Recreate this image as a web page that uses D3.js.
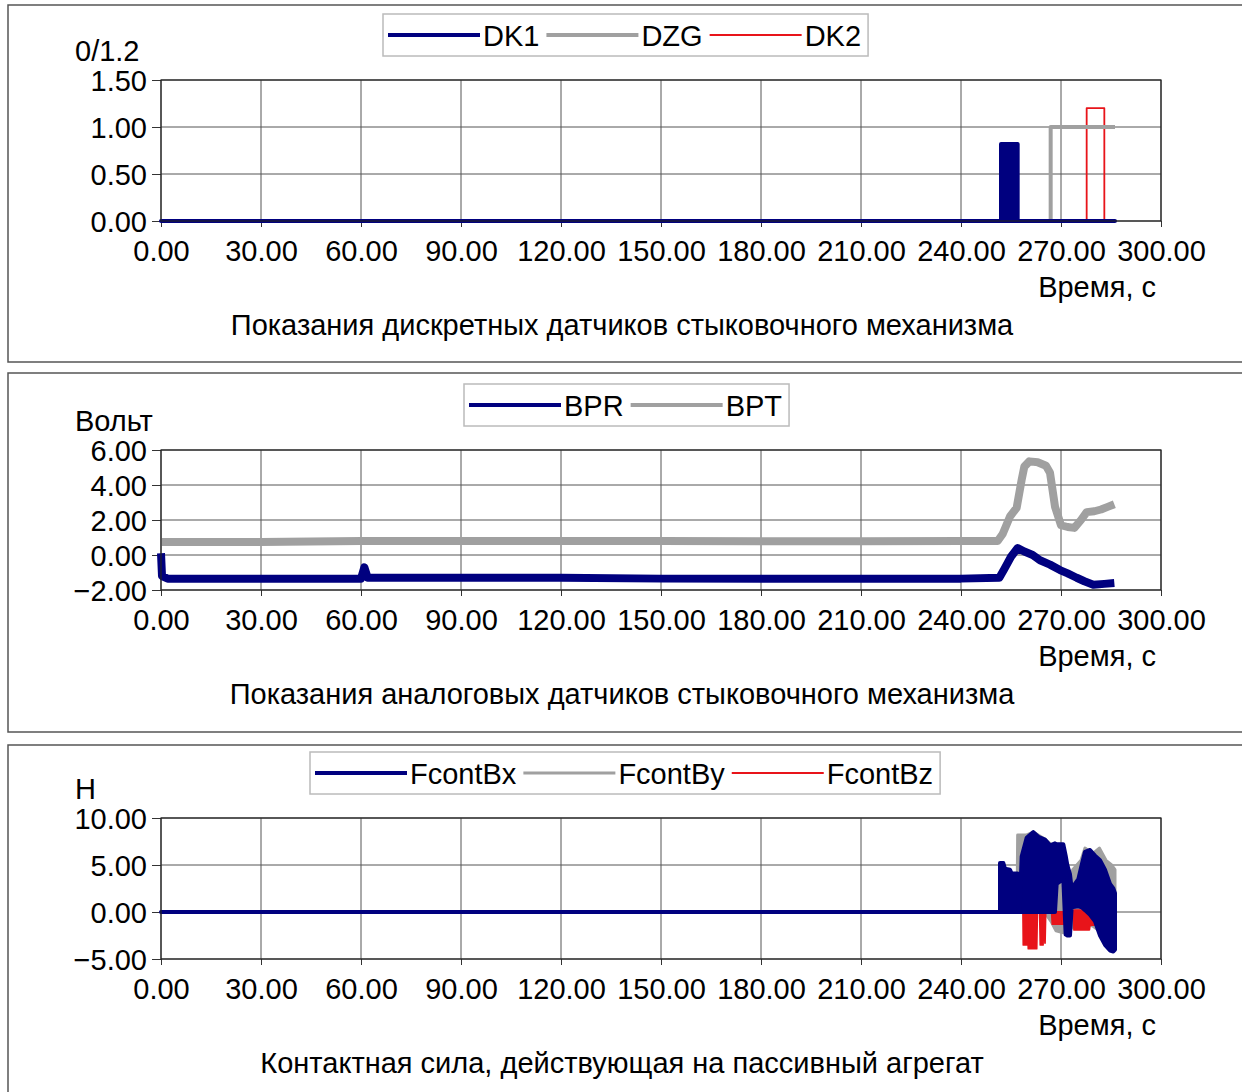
<!DOCTYPE html>
<html>
<head>
<meta charset="utf-8">
<script src="https://cdn.jsdelivr.net/npm/d3@7"></script>
<style>
body { margin: 0; background: #fff; }
text { font-family: "Liberation Sans", Arial, sans-serif; fill: #000; }
</style>
</head>
<body>
<div id="chart"></div>
<script>
// ---- data ----
var xTicks = [0, 30, 60, 90, 120, 150, 180, 210, 240, 270, 300];

// panel 1: discrete sensors (0/1.2)
var dk1T  = [0, 252, 252, 257, 257, 286.2];
var dk1Lo = [0, 0, 0, 0, 0, 0];
var dk1Hi = [0, 0, 0.82, 0.82, 0, 0];
var dzgT  = [0, 266.9, 266.9, 286.2];
var dzgV  = [0, 0, 1.0, 1.0];
var dk2T  = [0, 277.7, 277.7, 283.0, 283.0, 286.2];
var dk2V  = [0, 0, 1.2, 1.2, 0, 0];
var p1Ticks = [0, 0.5, 1.0, 1.5];

// panel 2: analog sensors, volts
var bptT = [0, 30, 60, 90, 120, 150, 180, 210, 240, 251, 252.5, 254.7, 256.7, 258.2, 259, 260.5, 263, 265.5, 266.7, 268.2, 270, 272, 274, 276, 277.7, 280, 282, 284, 286];
var bptV = [0.75, 0.75, 0.8, 0.8, 0.8, 0.8, 0.78, 0.78, 0.8, 0.8, 1.2, 2.2, 2.7, 4.3, 5.05, 5.35, 5.3, 5.1, 4.7, 2.76, 1.7, 1.6, 1.55, 2.0, 2.45, 2.5, 2.6, 2.75, 2.9];
var bprT = [0, 0.3, 2, 30, 60, 61, 62, 90, 120, 150, 180, 210, 240, 251.5, 253, 255, 257, 259, 261.5, 263.7, 266.7, 269.7, 272, 274.7, 277, 279.7, 283, 286];
var bprV = [0.1, -1.2, -1.35, -1.35, -1.35, -0.7, -1.3, -1.3, -1.3, -1.35, -1.35, -1.35, -1.35, -1.3, -0.8, -0.1, 0.4, 0.2, 0, -0.3, -0.55, -0.86, -1.05, -1.3, -1.5, -1.7, -1.65, -1.6];
var p2Ticks = [-2, 0, 2, 4, 6];

// panel 3: contact force (envelopes low/high)
var fxT  = [0, 251.7, 251.7, 252.7, 253.2, 254.7, 255.2, 257.0, 257.3, 257.6, 258.2, 259.7, 261.7, 263.2, 265.2, 266.7, 268.2, 268.7, 270.7, 271.4, 271.9, 272.7, 273.2, 275.2, 276.2, 277.2, 278.7, 280.2, 281.7, 283.2, 284.7, 285.7, 286.2];
var fxLo = [0, 0, 0, 0, 0, 0, 0, 0, 0, 0, 0, 0, 0, 0, 0, 0, 0, 3.0, 3.5, -2.4, -2.5, -2.5, 0.5, 0.6, 0.5, 0.2, -0.3, -1.0, -2.5, -3.5, -4.1, -4.2, -4.0];
var fxHi = [0, 0, 5.2, 5.2, 4.6, 4.5, 4.1, 4.1, 0.2, 0.2, 5.9, 7.9, 8.5, 8.0, 7.7, 7.1, 7.3, 7.2, 7.2, 6.0, 5.0, 4.0, 2.5, 3.5, 5.0, 6.4, 6.6, 6.0, 5.5, 4.5, 3.0, 2.5, 2.0];
var fyT  = [0, 256.8, 257.0, 259.7, 261.7, 265.0, 267.0, 268.5, 270.7, 272.7, 273.5, 276.0, 277.2, 279.5, 281.5, 283.5, 285.2, 286.2];
var fyLo = [0, 0, 0, 0, 0, 0, -1.0, -2.0, -2.2, -2.0, -1.5, -1.5, -1.0, -1.5, -2.0, -2.5, -3.0, -3.0];
var fyHi = [0, 0, 8.2, 8.2, 8.5, 7.8, 7.2, 6.5, 4.0, 3.0, 4.5, 5.5, 6.8, 6.2, 6.8, 5.5, 5.0, 4.5];
var fzT  = [0, 258.6, 258.7, 259.7, 259.9, 260.2, 262.7, 262.9, 263.6, 263.8, 264.6, 264.8, 265.2, 265.4, 267.2, 267.4, 271.2, 271.4, 273.7, 273.9, 278.5, 278.7, 280.0, 280.2, 286.2];
var fzLo = [0, 0, -3.5, -3.5, 0, -3.9, -3.9, 0, 0, -3.5, -3.5, 0, -3.3, 0, 0, -1.3, -1.3, 0, 0, -1.9, -1.9, -1.4, -1.4, 0, 0];
var fzHi = [0, 0, 0, 0, 0, 0, 0, 0, 0, 0, 0, 0, 0, 0, 0, 0, 0, 0, 0, 0.2, 0.2, 0, 0, 0, 0];
var p3Ticks = [-5, 0, 5, 10];

var navy = "#00007f", grey = "#a0a0a0", red = "#e8141a";

// ---- layout ----
var svg = d3.select("#chart").append("svg")
  .attr("width", 1242)
  .attr("height", 1092);

var plotLeft = 161, plotRight = 1161;

var panels = [
  { frameTop: 5, frameH: 357, top: 80, bottom: 221, ticks: p1Ticks, yTitle: "0/1.2",
    legendX: 383, title: "Показания дискретных датчиков стыковочного механизма",
    series: [
      { name: "DK1", color: navy, w: 4, t: dk1T, lo: dk1Lo, hi: dk1Hi },
      { name: "DZG", color: grey, w: 4, t: dzgT, v: dzgV },
      { name: "DK2", color: red, w: 1.8, t: dk2T, v: dk2V }
    ], drawOrder: [2, 1, 0] },
  { frameTop: 373, frameH: 359, top: 450, bottom: 590, ticks: p2Ticks, yTitle: "Вольт",
    legendX: 464, title: "Показания аналоговых датчиков стыковочного механизма",
    series: [
      { name: "BPR", color: navy, w: 8, t: bprT, v: bprV },
      { name: "BPT", color: grey, w: 8, t: bptT, v: bptV }
    ], drawOrder: [1, 0] },
  { frameTop: 745, frameH: 400, top: 818, bottom: 959, ticks: p3Ticks, yTitle: "Н",
    legendX: 310, title: "Контактная сила, действующая на пассивный агрегат",
    series: [
      { name: "FcontBx", color: navy, w: 4, t: fxT, lo: fxLo, hi: fxHi },
      { name: "FcontBy", color: grey, w: 3, t: fyT, lo: fyLo, hi: fyHi },
      { name: "FcontBz", color: red, w: 1.8, t: fzT, lo: fzLo, hi: fzHi }
    ], drawOrder: [1, 2, 0] }
];

var fmt = d3.format(".2f");

panels.forEach(function(p) {
  var g = svg.append("g");

  g.append("rect")
    .attr("x", 8).attr("y", p.frameTop)
    .attr("width", 1260).attr("height", p.frameH)
    .attr("fill", "none").attr("stroke", "#555").attr("stroke-width", 1.5);

  var x = d3.scaleLinear().domain([0, 300]).range([plotLeft, plotRight]);
  var y = d3.scaleLinear().domain([p.ticks[0], p.ticks[p.ticks.length - 1]]).range([p.bottom, p.top]);

  // grid
  g.append("g").selectAll("line").data(xTicks).enter().append("line")
    .attr("x1", d => x(d)).attr("x2", d => x(d))
    .attr("y1", p.top).attr("y2", p.bottom)
    .attr("stroke", "#555").attr("stroke-width", 1);
  g.append("g").selectAll("line").data(p.ticks).enter().append("line")
    .attr("x1", plotLeft).attr("x2", plotRight)
    .attr("y1", d => y(d)).attr("y2", d => y(d))
    .attr("stroke", "#555").attr("stroke-width", 1);

  // axes
  var xAxis = g.append("g")
    .attr("transform", `translate(0, ${p.bottom})`)
    .call(d3.axisBottom(x).tickValues(xTicks).tickFormat(fmt).tickSize(6).tickPadding(13).tickSizeOuter(0));
  var yAxis = g.append("g")
    .attr("transform", `translate(${plotLeft}, 0)`)
    .call(d3.axisLeft(y).tickValues(p.ticks).tickFormat(fmt).tickSize(9).tickPadding(5).tickSizeOuter(0));
  [xAxis, yAxis].forEach(function(a) {
    a.select(".domain").remove();
    a.selectAll("line").attr("stroke", "#333");
    a.selectAll("text").attr("font-size", 29).attr("fill", "#000")
      .style("font-family", '"Liberation Sans", Arial, sans-serif');
  });
  yAxis.selectAll("text").attr("dy", "0.36em");

  // series
  var clipId = "clip" + p.top;
  g.append("clipPath").attr("id", clipId).append("rect")
    .attr("x", plotLeft - 6).attr("y", p.top).attr("width", plotRight - plotLeft + 12).attr("height", p.bottom - p.top + 6);
  var sg = g.append("g").attr("clip-path", `url(#${clipId})`);

  p.drawOrder.forEach(function(i) {
    var s = p.series[i];
    var idx = d3.range(s.t.length);
    if (s.lo) {
      var area = d3.area().x(k => x(s.t[k])).y0(k => y(s.lo[k])).y1(k => y(s.hi[k]));
      sg.append("path").datum(idx).attr("d", area)
        .attr("fill", s.color).attr("stroke", s.color)
        .attr("stroke-width", s.w).attr("stroke-linejoin", "round");
    } else {
      var line = d3.line().x(k => x(s.t[k])).y(k => y(s.v[k]));
      sg.append("path").datum(idx).attr("d", line)
        .attr("fill", "none").attr("stroke", s.color)
        .attr("stroke-width", s.w).attr("stroke-linejoin", "round");
    }
  });

  // plot border
  g.append("rect")
    .attr("x", plotLeft).attr("y", p.top)
    .attr("width", plotRight - plotLeft).attr("height", p.bottom - p.top)
    .attr("fill", "none").attr("stroke", "#222").attr("stroke-width", 1.2);

  // y title
  g.append("text").attr("x", 75).attr("y", p.top - 19)
    .attr("font-size", 29).text(p.yTitle);

  // x title and caption
  g.append("text").attr("x", 1156).attr("y", p.bottom + 76)
    .attr("text-anchor", "end").attr("font-size", 29).text("Время, с");
  g.append("text").attr("x", 622).attr("y", p.bottom + 114)
    .attr("text-anchor", "middle").attr("font-size", 29).text(p.title);

  // legend
  var lg = g.append("g");
  var box = lg.append("rect");
  var cx = p.legendX + 5, cy = p.top - 45;
  p.series.forEach(function(s) {
    lg.append("line").attr("x1", cx).attr("x2", cx + 92)
      .attr("y1", cy).attr("y2", cy)
      .attr("stroke", s.color).attr("stroke-width", s.w > 3 ? 4 : s.w);
    var tx = lg.append("text").attr("x", cx + 95).attr("y", cy + 10.5)
      .attr("font-size", 29).text(s.name);
    cx += 95 + tx.node().getComputedTextLength() + 7;
  });
  box.attr("x", p.legendX).attr("y", p.top - 66)
    .attr("width", cx - p.legendX).attr("height", 42)
    .attr("fill", "#fff").attr("stroke", "#bbb").attr("stroke-width", 1.5);
});
</script>
</body>
</html>
